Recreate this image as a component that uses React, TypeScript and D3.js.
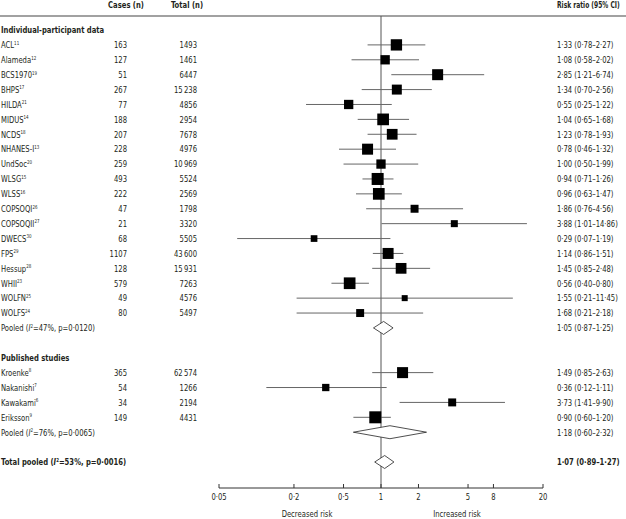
import React from "react";
import * as d3 from "d3";

// individual-participant data
const ipdStudies = ["ACL", "Alameda", "BCS1970", "BHPS", "HILDA", "MIDUS", "NCDS", "NHANES-I", "UndSoc", "WLSG", "WLSS", "COPSOQI", "COPSOQII", "DWECS", "FPS", "Hessup", "WHII", "WOLFN", "WOLFS"];
const ipdRefs = ["11", "12", "19", "17", "21", "14", "18", "13", "20", "15", "16", "26", "27", "30", "29", "28", "23", "25", "24"];
const ipdCases = [163, 127, 51, 267, 77, 188, 207, 228, 259, 493, 222, 47, 21, 68, 1107, 128, 579, 49, 80];
const ipdTotal = [1493, 1461, 6447, 15238, 4856, 2954, 7678, 4976, 10969, 5524, 2569, 1798, 3320, 5505, 43600, 15931, 7263, 4576, 5497];
const ipdRR = [1.33, 1.08, 2.85, 1.34, 0.55, 1.04, 1.23, 0.78, 1.0, 0.94, 0.96, 1.86, 3.88, 0.29, 1.14, 1.45, 0.56, 1.55, 0.68];
const ipdLo = [0.78, 0.58, 1.21, 0.7, 0.25, 0.65, 0.78, 0.46, 0.5, 0.71, 0.63, 0.76, 1.01, 0.07, 0.86, 0.85, 0.4, 0.21, 0.21];
const ipdHi = [2.27, 2.02, 6.74, 2.56, 1.22, 1.68, 1.93, 1.32, 1.99, 1.26, 1.47, 4.56, 14.86, 1.19, 1.51, 2.48, 0.8, 11.45, 2.18];
const ipdWeight = [8.9, 6.0, 8.4, 6.9, 6.0, 9.5, 8.0, 8.4, 6.0, 10.0, 9.5, 4.4, 3.4, 3.1, 8.4, 8.0, 9.5, 2.5, 4.4];

// published studies
const pubStudies = ["Kroenke", "Nakanishi", "Kawakami", "Eriksson"];
const pubRefs = ["8", "7", "6", "9"];
const pubCases = [365, 54, 34, 149];
const pubTotal = [62574, 1266, 2194, 4431];
const pubRR = [1.49, 0.36, 3.73, 0.9];
const pubLo = [0.85, 0.12, 1.41, 0.6];
const pubHi = [2.63, 1.11, 9.9, 1.2];
const pubWeight = [8.4, 3.7, 4.4, 10.0];

// pooled estimates: IPD, published, total
const pooledRR = [1.05, 1.18, 1.07];
const pooledLo = [0.87, 0.6, 0.89];
const pooledHi = [1.25, 2.32, 1.27];
const pooledI2 = ["47", "76", "53"];
const pooledP = ["0·0120", "0·0065", "0·0016"];

// the printed column differs from the plotted point here (as in the source figure)
const printedOverrides: Record<string, string> = { WOLFS: "1·68 (0·21–2·18)" };

const axisTicks = [0.05, 0.2, 0.5, 1, 2, 5, 8, 20];

const FONT = "'DejaVu Sans Condensed', 'DejaVu Sans', sans-serif";
const INK = "#231f20";
const SQUEEZE = 0.8; // the original typeface is much narrower than anything installed

const dec = (v: number) => v.toFixed(2).replace(".", "·");
const ci = (r: number, l: number, h: number) => `${dec(r)} (${dec(l)}–${dec(h)})`;
const big = (v: number) => (v >= 10000 ? d3.format(",")(v).replace(",", "\u2009") : String(v));
const tickFmt = (v: number) => String(v).replace(".", "·");

// narrow text helper
const T = (props: { x: number; y: number; anchor?: string; bold?: boolean; sx?: number; children: React.ReactNode }) => (
  <text
    transform={`translate(${props.x},${props.y}) scale(${props.sx || SQUEEZE},1)`}
    textAnchor={props.anchor || "start"}
    fontWeight={props.bold ? "bold" : "normal"}
  >
    {props.children}
  </text>
);

type Row =
  | { kind: "header"; key: string; label: string }
  | { kind: "blank"; key: string }
  | { kind: "study"; key: string; name: string; ref: string; cases: number; total: number; rr: number; lo: number; hi: number; w: number }
  | { kind: "pooled"; key: string; idx: number; label: string; bold: boolean };

const rows: Row[] = [];
rows.push({ kind: "header", key: "h1", label: "Individual-participant data" });
ipdStudies.forEach((s, i) =>
  rows.push({ kind: "study", key: s, name: s, ref: ipdRefs[i], cases: ipdCases[i], total: ipdTotal[i], rr: ipdRR[i], lo: ipdLo[i], hi: ipdHi[i], w: ipdWeight[i] })
);
rows.push({ kind: "pooled", key: "p1", idx: 0, label: "Pooled", bold: false });
rows.push({ kind: "blank", key: "b1" });
rows.push({ kind: "header", key: "h2", label: "Published studies" });
pubStudies.forEach((s, i) =>
  rows.push({ kind: "study", key: s, name: s, ref: pubRefs[i], cases: pubCases[i], total: pubTotal[i], rr: pubRR[i], lo: pubLo[i], hi: pubHi[i], w: pubWeight[i] })
);
rows.push({ kind: "pooled", key: "p2", idx: 1, label: "Pooled", bold: false });
rows.push({ kind: "blank", key: "b2" });
rows.push({ kind: "pooled", key: "p3", idx: 2, label: "Total pooled", bold: true });

const width = 626;
const height = 519;

export default function App() {
  const x = d3.scaleLog().domain([0.05, 20]).range([219, 543]);
  const y = d3.scalePoint<string>().domain(rows.map((r) => r.key)).range([30, 462]);
  const size = d3.scaleSqrt().domain([0, 10]).range([0, 12]);

  const headerLineY = 16;
  const axisY = 488;
  const colCases = 127;
  const colTotal = 197;
  const colCI = 557;

  return (
    <svg
      width={width}
      height={height}
      style={{ position: "absolute", left: 0, top: 0, background: "#fff" }}
      fontFamily={FONT}
      fontSize={9.5}
      fill={INK}
    >
      {/* column headers */}
      <T x={126} y={8} anchor="middle" bold>Cases (n)</T>
      <T x={187} y={8} anchor="middle" bold>Total (n)</T>
      <T x={colCI} y={8} bold sx={0.7}>Risk ratio (95% CI)</T>
      <line x1={0} x2={width} y1={headerLineY} y2={headerLineY} stroke="#444" strokeWidth={1.2} />

      {/* reference line at 1 */}
      <line x1={x(1)} x2={x(1)} y1={headerLineY} y2={axisY} stroke="#555" strokeWidth={1} />

      {rows.map((r) => {
        const cy = y(r.key) as number;
        const ty = cy + 3.3;
        if (r.kind === "header") {
          return <T key={r.key} x={1} y={ty} bold>{r.label}</T>;
        }
        if (r.kind === "blank") return null;
        if (r.kind === "study") {
          const s = size(r.w);
          return (
            <g key={r.key}>
              <T x={1} y={ty}>
                {r.name}
                <tspan fontSize={5.5} dy={-3.5}>{r.ref}</tspan>
              </T>
              <T x={colCases} y={ty} anchor="end">{big(r.cases)}</T>
              <T x={colTotal} y={ty} anchor="end">{big(r.total)}</T>
              <T x={colCI} y={ty}>{printedOverrides[r.name] || ci(r.rr, r.lo, r.hi)}</T>
              <line x1={x(r.lo)} x2={x(r.hi)} y1={cy} y2={cy} stroke="#666" strokeWidth={1} />
              <rect x={x(r.rr) - s / 2} y={cy - s / 2} width={s} height={s} fill="#000" />
            </g>
          );
        }
        const i = r.idx;
        const h = 6.5;
        const pts = [
          [x(pooledLo[i]), cy],
          [x(pooledRR[i]), cy - h],
          [x(pooledHi[i]), cy],
          [x(pooledRR[i]), cy + h],
        ];
        return (
          <g key={r.key}>
            <T x={1} y={ty} bold={r.bold}>
              {r.label} (<tspan fontStyle="italic">I</tspan>
              <tspan fontSize={5.5} dy={-3.5}>2</tspan>
              <tspan dy={3.5}>={pooledI2[i]}%, p={pooledP[i]})</tspan>
            </T>
            <T x={colCI} y={ty} bold={r.bold}>{ci(pooledRR[i], pooledLo[i], pooledHi[i])}</T>
            <polygon points={pts.map((p) => p.join(",")).join(" ")} fill="#fff" stroke="#222" strokeWidth={0.8} />
          </g>
        );
      })}

      {/* x axis */}
      <line x1={x(0.05)} x2={x(20)} y1={axisY} y2={axisY} stroke="#333" strokeWidth={1} />
      {axisTicks.map((t) => (
        <g key={t}>
          <line x1={x(t)} x2={x(t)} y1={axisY} y2={axisY - 4} stroke="#333" strokeWidth={1} />
          <T x={x(t)} y={axisY + 12} anchor="middle">{tickFmt(t)}</T>
        </g>
      ))}
      <T x={307} y={517} anchor="middle">Decreased risk</T>
      <T x={457} y={517} anchor="middle">Increased risk</T>
    </svg>
  );
}
